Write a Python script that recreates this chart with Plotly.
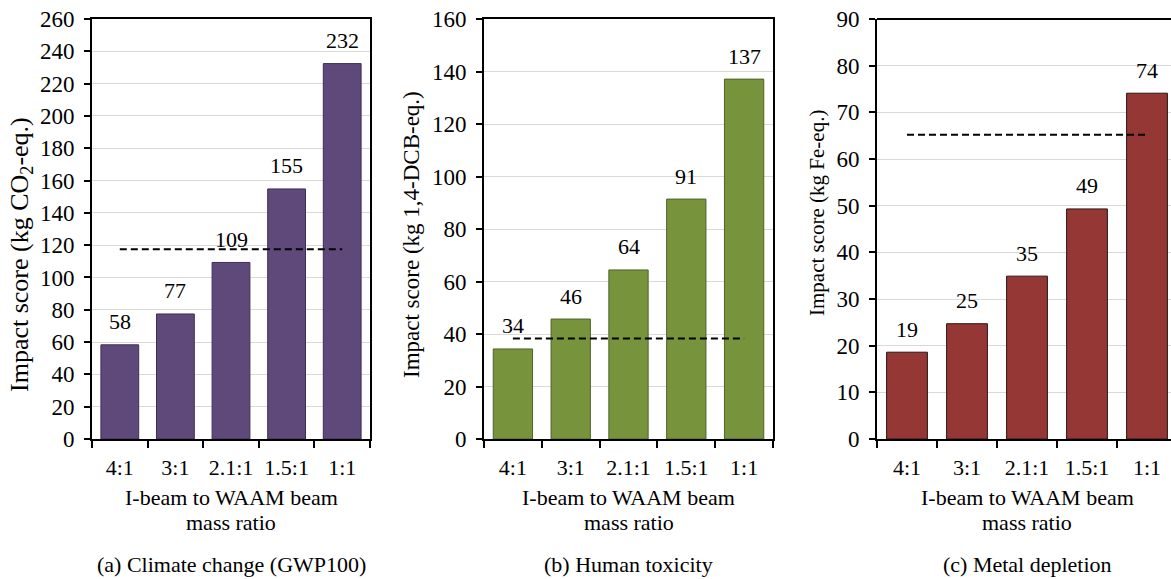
import plotly.graph_objects as go

categories = ["4:1", "3:1", "2.1:1", "1.5:1", "1:1"]
gwp_values = [58.3, 77.4, 109.3, 154.8, 232.4]
htox_values = [34.3, 45.7, 64.4, 91.4, 137.1]
metal_values = [18.6, 24.7, 34.9, 49.3, 74.1]
gwp_ref = 117.5
htox_ref = 38.3
metal_ref = 65.2
xtitle_lines = ["I-beam to WAAM beam", "mass ratio"]

panels = [
    dict(vals=gwp_values, ref=gwp_ref, color="#5F497A", edge="#3E2E55", ymax=260, dtick=20,
         ytitle="Impact score (kg CO<sub>2</sub>-eq.)", caption="(a) Climate change (GWP100)",
         tsize=26, tx=21, ty=255),
    dict(vals=htox_values, ref=htox_ref, color="#77933C", edge="#4F6228", ymax=160, dtick=20,
         ytitle="Impact score (kg 1,4-DCB-eq.)", caption="(b) Human toxicity",
         tsize=23, tx=412, ty=235),
    dict(vals=metal_values, ref=metal_ref, color="#953735", edge="#2A1515", ymax=90, dtick=10,
         ytitle="Impact score (kg Fe-eq.)", caption="(c) Metal depletion",
         tsize=21, tx=817, ty=213),
]

W, H = 1171, 579
# pixel geometry of plot areas (panel c is cut off by the right edge)
xpix = [(92, 370), (484, 773), (877, 1171)]
full_right_c = 1177
ytop, ybot = 19, 439
FONT = "Liberation Serif, Times New Roman, serif"

fig = go.Figure()
layout = dict(
    width=W, height=H, margin=dict(l=0, r=0, t=0, b=0, autoexpand=False),
    paper_bgcolor="white", plot_bgcolor="white", showlegend=False,
    font=dict(family=FONT, size=22, color="black"),
    bargap=0.32,
)
annotations = []
shapes = []
for i, p in enumerate(panels):
    n = i + 1
    xa = "x" if n == 1 else f"x{n}"
    ya = "y" if n == 1 else f"y{n}"
    fig.add_trace(go.Bar(x=categories, y=p["vals"], xaxis=xa, yaxis=ya,
                         marker=dict(color=p["color"], line=dict(color=p["edge"], width=1)),
                         hoverinfo="x+y"))
    fig.add_trace(go.Scatter(x=[categories[0], categories[-1]], y=[p["ref"], p["ref"]],
                             xaxis=xa, yaxis=ya, mode="lines",
                             line=dict(color="black", width=2, dash="7px,4px")))
    for c, v in zip(categories, p["vals"]):
        annotations.append(dict(x=c, y=v, xref=xa, yref=ya, text=f"{v:.0f}", showarrow=False,
                                xanchor="center", yanchor="middle", yshift=23,
                                font=dict(size=22)))
    x0, x1 = xpix[i]
    d = [x0 / W, x1 / W]
    xr = [-0.5, 4.5] if i < 2 else [-0.5, -0.5 + (x1 - x0) / 60.0]
    mirror = i < 2
    layout[f"xaxis{'' if n == 1 else n}"] = dict(
        domain=d, anchor=ya, range=xr, type="category", automargin=False,
        showline=True, linecolor="black", linewidth=2, mirror=mirror,
        ticks="outside", tickson="boundaries", ticklen=7, tickwidth=1.5, tickcolor="black",
        ticklabelstandoff=8, showgrid=False, tickfont=dict(size=22))
    layout[f"yaxis{'' if n == 1 else n}"] = dict(
        domain=[1 - ybot / H, 1 - ytop / H], anchor=xa, range=[0, p["ymax"]], dtick=p["dtick"],
        automargin=False,
        showline=True, linecolor="black", linewidth=2, mirror=mirror,
        ticks="outside", ticklen=6, tickwidth=1.5, tickcolor="black", ticklabelstandoff=5,
        showgrid=True, gridcolor="#D9D9D9", gridwidth=1, zeroline=False, tickfont=dict(size=23))
    xc = (x0 + (full_right_c if i == 2 else x1)) / 2
    for line_text, ly in zip(xtitle_lines, [497, 522]):
        annotations.append(dict(x=xc / W, y=1 - ly / H, xref="paper", yref="paper",
                                text=line_text, showarrow=False,
                                xanchor="center", yanchor="middle", font=dict(size=22)))
    annotations.append(dict(x=xc / W, y=1 - 564 / H, xref="paper", yref="paper",
                            text=p["caption"], showarrow=False, xanchor="center",
                            yanchor="middle", font=dict(size=22)))
    annotations.append(dict(x=p["tx"] / W, y=1 - p["ty"] / H, xref="paper", yref="paper",
                            text=p["ytitle"], showarrow=False, textangle=-90,
                            xanchor="center", yanchor="middle", font=dict(size=p["tsize"])))
    if i == 2:
        shapes.append(dict(type="line", xref="paper", yref="paper",
                           x0=x0 / W, x1=1.0, y0=1 - ytop / H, y1=1 - ytop / H,
                           line=dict(color="black", width=2)))

layout["annotations"] = annotations
layout["shapes"] = shapes
fig.update_layout(**layout)
fig.write_html("out.html", config={"displayModeBar": False},
               post_script="document.body.style.margin='0';document.body.style.overflow='hidden';")
